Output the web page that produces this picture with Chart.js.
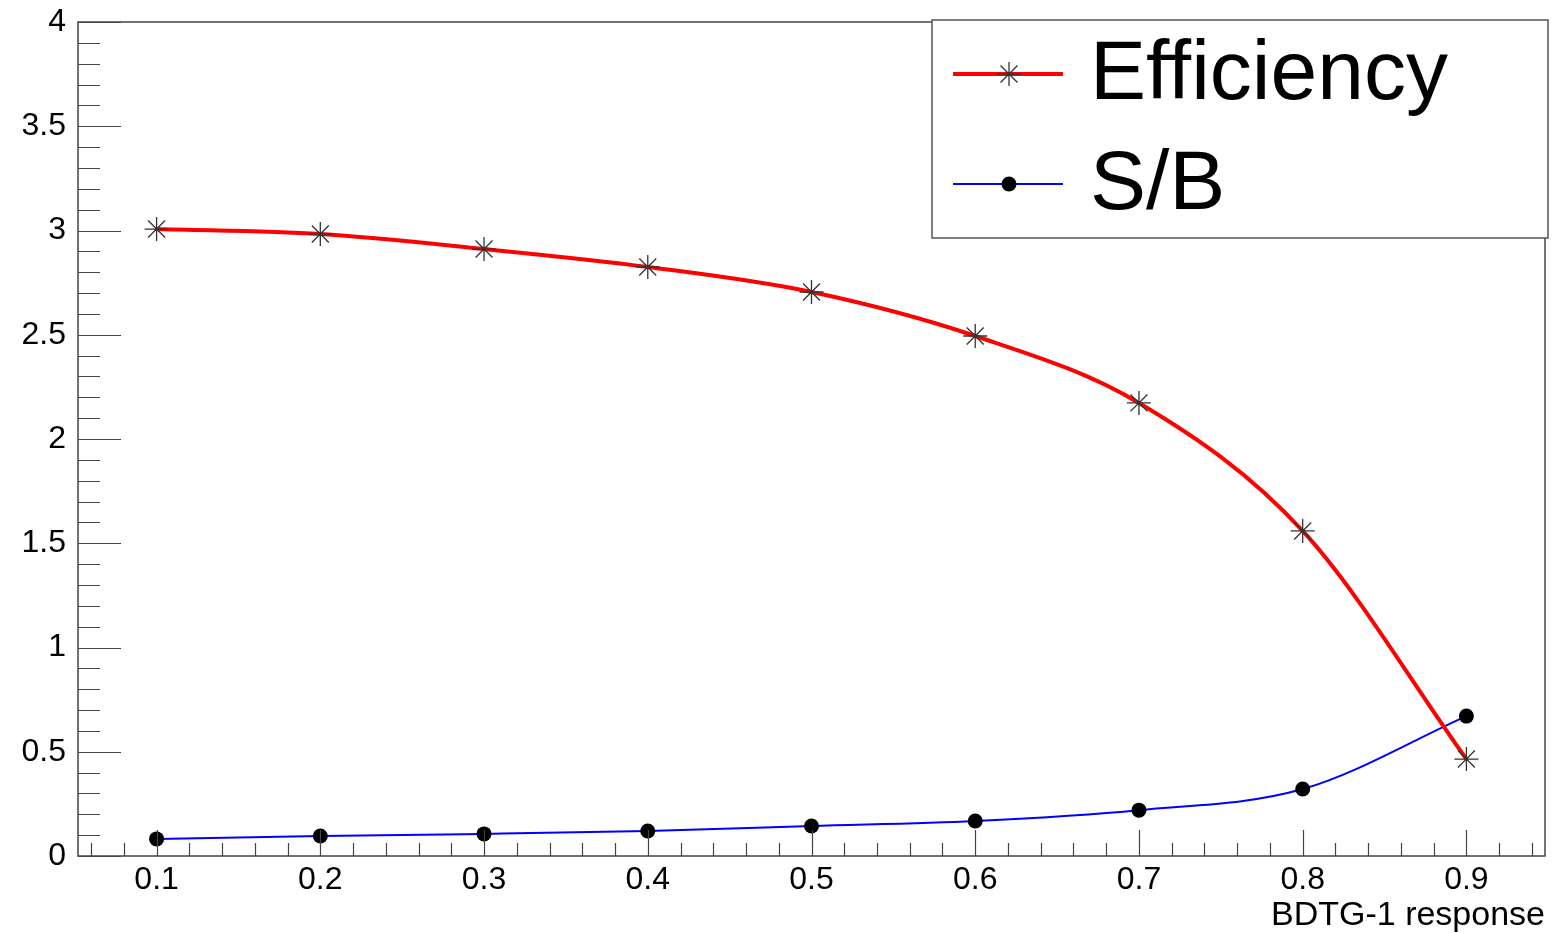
<!DOCTYPE html>
<html>
<head>
<meta charset="utf-8">
<title>Efficiency and S/B vs BDTG-1 response</title>
<script src="https://cdn.jsdelivr.net/npm/chart.js@4.4.1/dist/chart.umd.min.js"></script>
<style>
  html, body { margin: 0; padding: 0; background: #fff; }
  #grafico { display: block; }
</style>
</head>
<body>
<canvas id="grafico" width="1553" height="933"></canvas>
<script>
// valores
const cortes = [0.1, 0.2, 0.3, 0.4, 0.5, 0.6, 0.7, 0.8, 0.9];
const eficiencia = [3.007, 2.983, 2.911, 2.825, 2.705, 2.494, 2.173, 1.559, 0.465];
const senalFondo = [0.082, 0.096, 0.106, 0.120, 0.144, 0.168, 0.220, 0.321, 0.671];
const xTicks = [0.1, 0.2, 0.3, 0.4, 0.5, 0.6, 0.7, 0.8, 0.9];
const yTicks = [0, 0.5, 1, 1.5, 2, 2.5, 3, 3.5, 4];
const etiquetas = ['Efficiency', 'S/B'];

const fuente = '"Liberation Sans", Arial, Helvetica, sans-serif';

// marco, ticks hacia dentro y leyenda al estilo ROOT
const marcoPlugin = {
    id: 'marco',
    afterDraw(chart) {
        const ctx = chart.ctx;
        const a = chart.chartArea;
        const x = chart.scales.x;
        const y = chart.scales.y;
        ctx.save();
        ctx.strokeStyle = '#444';
        ctx.lineWidth = 1.5;
        ctx.strokeRect(a.left, a.top, a.right - a.left, a.bottom - a.top);

        // ticks eje y: mayores cada 0.5, menores cada 0.1
        ctx.beginPath();
        for (let i = 0; i <= 40; i++) {
            const py = Math.round(y.getPixelForValue(i / 10)) + 0.5;
            const largo = (i % 5 === 0) ? 43 : 22;
            ctx.moveTo(a.left, py);
            ctx.lineTo(a.left + largo, py);
        }
        // ticks eje x: mayores cada 0.1, menores cada 0.02
        for (let i = 3; i <= 47; i++) {
            const v = i / 50;
            if (v < x.min || v > x.max) continue;
            const px = Math.round(x.getPixelForValue(v)) + 0.5;
            const largo = (i % 5 === 0) ? 26 : 13;
            ctx.moveTo(px, a.bottom);
            ctx.lineTo(px, a.bottom - largo);
        }
        ctx.lineWidth = 1.2;
        ctx.stroke();

        // leyenda
        const bx = 932, by = 20, bw = 616, bh = 218;
        ctx.fillStyle = '#fff';
        ctx.fillRect(bx, by, bw, bh);
        ctx.strokeStyle = '#555';
        ctx.lineWidth = 1.5;
        ctx.strokeRect(bx, by, bw, bh);

        const filasY = [74, 184];
        chart.data.datasets.forEach((ds, i) => {
            const yl = filasY[i];
            ctx.strokeStyle = ds.borderColor;
            ctx.lineWidth = ds.borderWidth;
            ctx.beginPath();
            ctx.moveTo(953, yl);
            ctx.lineTo(1063, yl);
            ctx.stroke();
            ctx.strokeStyle = ds.pointBorderColor;
            ctx.fillStyle = ds.pointBackgroundColor;
            ctx.lineWidth = ds.pointBorderWidth;
            Chart.helpers.drawPoint(ctx, {
                pointStyle: ds.pointStyle,
                radius: ds.pointRadius,
                rotation: 0,
                borderWidth: ds.pointBorderWidth
            }, 1009, yl);
            ctx.fillStyle = '#000';
            ctx.font = '84px ' + fuente;
            ctx.textBaseline = 'alphabetic';
            ctx.textAlign = 'left';
            ctx.fillText(ds.label, 1090, yl + 25);
        });
        ctx.restore();
    }
};

const datosEficiencia = cortes.map((c, i) => ({ x: c, y: eficiencia[i] }));
const datosSB = cortes.map((c, i) => ({ x: c, y: senalFondo[i] }));

const chart = new Chart(document.getElementById('grafico'), {
    type: 'line',
    data: {
        datasets: [
            {
                label: etiquetas[0],
                data: datosEficiencia,
                borderColor: '#ff0000',
                borderWidth: 4,
                cubicInterpolationMode: 'monotone',
                pointStyle: 'star',
                pointRadius: 12,
                pointBorderWidth: 1.3,
                pointBorderColor: '#333',
                pointBackgroundColor: '#333',
                fill: false
            },
            {
                label: etiquetas[1],
                data: datosSB,
                borderColor: '#0000ff',
                borderWidth: 2,
                cubicInterpolationMode: 'monotone',
                pointStyle: 'circle',
                pointRadius: 7.5,
                pointBorderWidth: 0,
                pointBorderColor: '#000',
                pointBackgroundColor: '#000',
                fill: false
            }
        ]
    },
    options: {
        responsive: false,
        animation: false,
        devicePixelRatio: 1,
        layout: { autoPadding: false, padding: { top: 22, right: 8, left: 0, bottom: 0 } },
        plugins: {
            legend: { display: false },
            tooltip: { enabled: false },
            title: { display: false }
        },
        scales: {
            x: {
                type: 'linear',
                min: 0.052,
                max: 0.948,
                grid: { display: false, drawTicks: false },
                border: { display: false },
                afterBuildTicks: (scale) => { scale.ticks = xTicks.map(v => ({ value: v })); },
                afterFit: (scale) => {
                    scale.height = 77;
                    scale.paddingLeft = 0;
                    scale.paddingRight = 0;
                },
                ticks: {
                    padding: 5,
                    color: '#000',
                    font: { family: fuente, size: 32 },
                    maxRotation: 0,
                    autoSkip: false,
                    callback: (v) => String(Math.round(v * 10) / 10)
                },
                title: {
                    display: true,
                    text: 'BDTG-1 response',
                    align: 'end',
                    color: '#000',
                    font: { family: fuente, size: 34, lineHeight: 1 },
                    padding: { top: 0, bottom: 0 }
                }
            },
            y: {
                type: 'linear',
                min: 0,
                max: 4,
                grid: { display: false, drawTicks: false },
                border: { display: false },
                afterBuildTicks: (scale) => { scale.ticks = yTicks.map(v => ({ value: v })); },
                afterFit: (scale) => {
                    scale.width = 78;
                    scale.paddingTop = 0;
                    scale.paddingBottom = 0;
                },
                ticks: {
                    padding: 12,
                    color: '#000',
                    font: { family: fuente, size: 32 },
                    autoSkip: false,
                    callback: (v) => String(v)
                }
            }
        }
    },
    plugins: [marcoPlugin]
});
</script>
</body>
</html>
